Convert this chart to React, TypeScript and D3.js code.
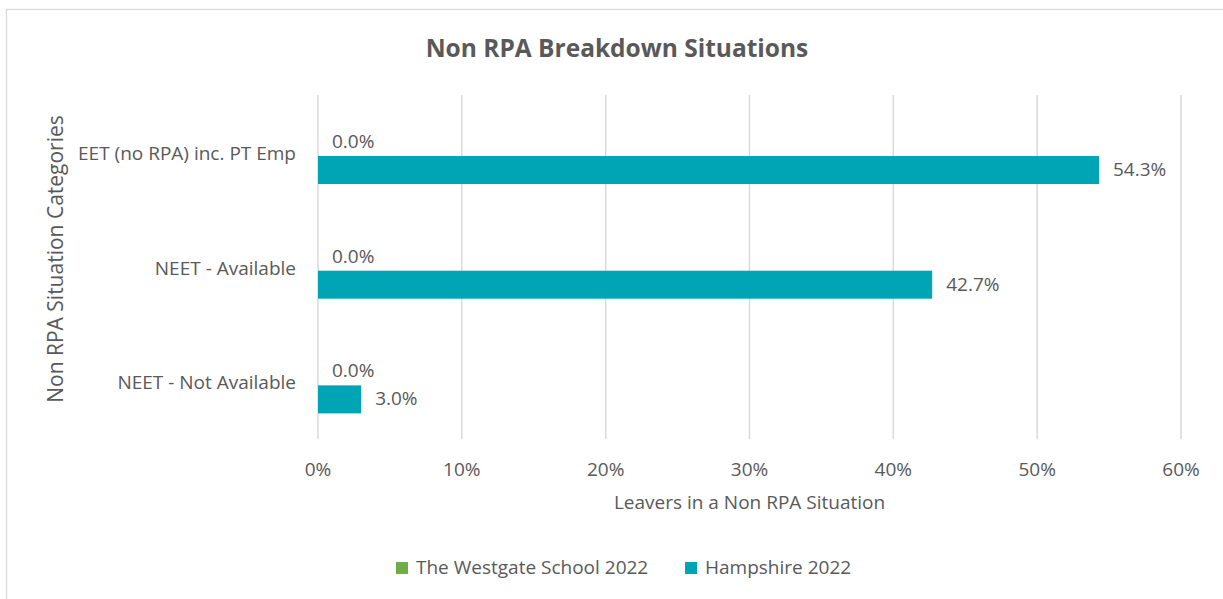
import React from "react";
import * as d3 from "d3";

const categories = ["EET (no RPA) inc. PT Emp", "NEET - Available", "NEET - Not Available"];
const seriesNames = ["The Westgate School 2022", "Hampshire 2022"];
const westgate = [0.0, 0.0, 0.0];
const hampshire = [54.3, 42.7, 3.0];
const xTicks = [0, 10, 20, 30, 40, 50, 60];
const colors = ["#70AD47", "#00A5B5"];

const W = 1223;
const H = 599;
const FONT = "'Open Sans', 'Noto Sans', sans-serif";
const TXT = "#595959";
const FS = 19;

export default function App() {
  const x = d3.scaleLinear().domain([0, 60]).range([318, 1181]);
  const gridTop = 95;
  const gridBottom = 439;
  const y = d3.scaleBand<string>().domain(categories).range([gridTop + 3.7, gridBottom + 3.7]);
  const barH = 28;
  const series = [westgate, hampshire];

  return (
    <svg width={W} height={H} style={{ position: "absolute", left: 0, top: 0 }} fontFamily={FONT}>
      <rect x={0} y={0} width={W} height={H} fill="#fff" />
      <rect x={6.5} y={9.5} width={W + 20} height={H + 20} fill="#fff" stroke="#D9D9D9" strokeWidth={1.3} />
      <text x={617} y={47} textAnchor="middle" dominantBaseline="central" fontSize={24.5} fontWeight={700} fill={TXT}>
        Non RPA Breakdown Situations
      </text>
      {xTicks.map((t) => (
        <g key={t}>
          <line x1={x(t)} x2={x(t)} y1={gridTop} y2={gridBottom} stroke="#D9D9D9" strokeWidth={1.5} />
          <text x={x(t)} y={469} textAnchor="middle" dominantBaseline="central" fontSize={FS} fill={TXT}>
            {t}%
          </text>
        </g>
      ))}
      {categories.map((c, i) => {
        const center = (y(c) as number) + y.bandwidth() / 2;
        return (
          <g key={c}>
            <text x={296} y={center - 3} textAnchor="end" dominantBaseline="central" fontSize={FS} fill={TXT}>
              {c}
            </text>
            {series.map((s, j) => {
              const top = center - barH + j * barH;
              const v = s[i];
              return (
                <g key={j}>
                  {v > 0 && (
                    <rect x={x(0)} y={top} width={x(v) - x(0)} height={barH} fill={colors[j]} />
                  )}
                  <text x={x(v) + 14} y={top + barH / 2 - 1} dominantBaseline="central" fontSize={FS} fill={TXT}>
                    {v.toFixed(1)}%
                  </text>
                </g>
              );
            })}
          </g>
        );
      })}
      <text x={749.5} y={502} textAnchor="middle" dominantBaseline="central" fontSize={FS} fill={TXT}>
        Leavers in a Non RPA Situation
      </text>
      <text
        transform={`translate(55, ${(gridTop + gridBottom) / 2 - 8}) rotate(-90)`}
        textAnchor="middle"
        dominantBaseline="central"
        fontSize={21}
        fill={TXT}
      >
        Non RPA Situation Categories
      </text>
      {seriesNames.map((n, j) => {
        const lx = j === 0 ? 396 : 685;
        return (
          <g key={n}>
            <rect x={lx} y={562} width={12} height={12} fill={colors[j]} />
            <text x={lx + 20} y={567} dominantBaseline="central" fontSize={FS} fill={TXT}>
              {n}
            </text>
          </g>
        );
      })}
    </svg>
  );
}
